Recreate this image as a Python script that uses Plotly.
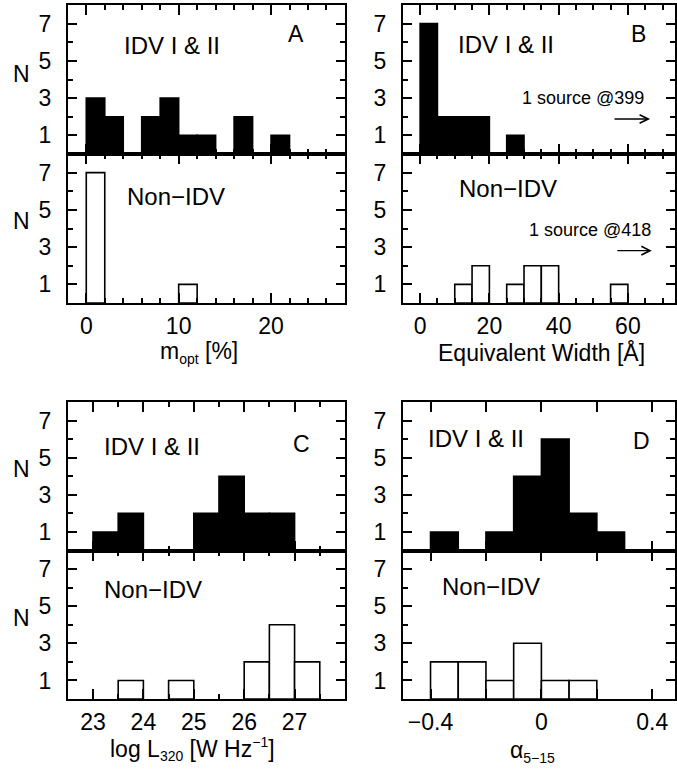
import plotly.graph_objects as go

# ---- histogram data (bin left edges, bin width, counts) ----
mopt_edges = [0, 2, 4, 6, 8, 10, 12, 14, 16, 18, 20]
mopt_width = 2
mopt_idv = [3, 2, 0, 2, 3, 1, 1, 0, 2, 0, 1]
mopt_non = [7, 0, 0, 0, 0, 1, 0, 0, 0, 0, 0]

ew_edges = [0, 5, 10, 15, 20, 25, 30, 35, 40, 45, 50, 55]
ew_width = 5
ew_idv = [7, 2, 2, 2, 0, 1, 0, 0, 0, 0, 0, 0]
ew_non = [0, 0, 1, 2, 0, 1, 2, 2, 0, 0, 0, 1]

lum_edges = [23.0, 23.5, 24.0, 24.5, 25.0, 25.5, 26.0, 26.5, 27.0]
lum_width = 0.5
lum_idv = [1, 2, 0, 0, 2, 4, 2, 2, 0]
lum_non = [0, 1, 0, 1, 0, 0, 2, 4, 2]

alpha_edges = [-0.4, -0.3, -0.2, -0.1, 0.0, 0.1, 0.2]
alpha_width = 0.1
alpha_idv = [1, 0, 1, 4, 6, 2, 1]
alpha_non = [2, 2, 1, 3, 1, 1, 0]

# outliers beyond the plotted equivalent-width range
ew_outlier_idv = 399
ew_outlier_non = 418

W, H = 677, 769
FONT = "Liberation Sans, Arial, sans-serif"


def px(x):
    return x / W


def py(y):
    return 1 - y / H


fig = go.Figure()


def add_hist(edges, width, counts, filled, xa, ya):
    xs = [e + width / 2 for e, c in zip(edges, counts) if c > 0]
    ys = [c for c in counts if c > 0]
    fig.add_trace(go.Bar(
        x=xs, y=ys, width=width, xaxis=xa, yaxis=ya,
        marker=dict(color="black" if filled else "white",
                    line=dict(color="black", width=1.6)),
        showlegend=False, hoverinfo="x+y",
    ))


add_hist(mopt_edges, mopt_width, mopt_idv, True, "x", "y")
add_hist(mopt_edges, mopt_width, mopt_non, False, "x2", "y2")
add_hist(ew_edges, ew_width, ew_idv, True, "x3", "y3")
add_hist(ew_edges, ew_width, ew_non, False, "x4", "y4")
add_hist(lum_edges, lum_width, lum_idv, True, "x5", "y5")
add_hist(lum_edges, lum_width, lum_non, False, "x6", "y6")
add_hist(alpha_edges, alpha_width, alpha_idv, True, "x7", "y7")
add_hist(alpha_edges, alpha_width, alpha_non, False, "x8", "y8")

LEFT = [px(68), px(346)]
RIGHT = [px(404), 1.0]
ROW = {
    "a_top": [py(154), py(5)],
    "a_bot": [py(303), py(154)],
    "b_top": [py(550.5), py(402)],
    "b_bot": [py(699), py(550.5)],
}


def xaxis(domain, rng, tickvals, ticktext, minor_dtick, labels, anchor):
    ax = dict(
        domain=domain, range=rng, anchor=anchor,
        showline=True, linewidth=2, linecolor="black", mirror="ticks",
        ticks="inside", ticklen=10, tickwidth=1.5, tickcolor="black",
        tickvals=tickvals, ticktext=ticktext,
        showticklabels=labels, showgrid=False, zeroline=False,
        tickfont=dict(family=FONT, size=23, color="black"),
        ticklabelstandoff=1,
    )
    if minor_dtick:
        ax["minor"] = dict(ticks="inside", ticklen=5, tickwidth=1.5,
                           tickcolor="black", dtick=minor_dtick,
                           tick0=0, showgrid=False)
    return ax


def yaxis(domain, anchor):
    return dict(
        domain=domain, range=[0, 8], anchor=anchor,
        showline=True, linewidth=2, linecolor="black", mirror="ticks",
        ticks="inside", ticklen=9, tickwidth=1.5, tickcolor="black",
        tickvals=[1, 3, 5, 7], showgrid=False, zeroline=False,
        tickfont=dict(family=FONT, size=23, color="black"),
        ticklabelstandoff=10,
        minor=dict(ticks="inside", ticklen=5, tickwidth=1.5,
                   tickcolor="black", dtick=1, tick0=0, showgrid=False),
    )


mopt_ticks = [0, 10, 20]
ew_ticks = [0, 20, 40, 60]
lum_ticks = [23, 24, 25, 26, 27]
alpha_ticks = [-0.4, -0.2, 0.0, 0.2, 0.4]
alpha_text = ["\u22120.4", "", "0", "", "0.4"]

layout = dict(
    width=W, height=H, margin=dict(l=0, r=0, t=0, b=0),
    plot_bgcolor="white", paper_bgcolor="white",
    font=dict(family=FONT, color="black"),
    barmode="overlay",
    xaxis=xaxis(LEFT, [-2, 28], mopt_ticks, [str(v) for v in mopt_ticks], 2, False, "y"),
    yaxis=yaxis(ROW["a_top"], "x"),
    xaxis2=xaxis(LEFT, [-2, 28], mopt_ticks, [str(v) for v in mopt_ticks], 2, True, "y2"),
    yaxis2=yaxis(ROW["a_bot"], "x2"),
    xaxis3=xaxis(RIGHT, [-5, 73.6], ew_ticks, [str(v) for v in ew_ticks], 5, False, "y3"),
    yaxis3=yaxis(ROW["a_top"], "x3"),
    xaxis4=xaxis(RIGHT, [-5, 73.6], ew_ticks, [str(v) for v in ew_ticks], 5, True, "y4"),
    yaxis4=yaxis(ROW["a_bot"], "x4"),
    xaxis5=xaxis(LEFT, [22.5, 28], lum_ticks, [str(v) for v in lum_ticks], 0.5, False, "y5"),
    yaxis5=yaxis(ROW["b_top"], "x5"),
    xaxis6=xaxis(LEFT, [22.5, 28], lum_ticks, [str(v) for v in lum_ticks], 0.5, True, "y6"),
    yaxis6=yaxis(ROW["b_bot"], "x6"),
    xaxis7=xaxis(RIGHT, [-0.5, 0.482], alpha_ticks, alpha_text, None, False, "y7"),
    yaxis7=yaxis(ROW["b_top"], "x7"),
    xaxis8=xaxis(RIGHT, [-0.5, 0.482], alpha_ticks, alpha_text, None, True, "y8"),
    yaxis8=yaxis(ROW["b_bot"], "x8"),
)
fig.update_layout(**layout)


def label(text, x, y, size=24):
    fig.add_annotation(text=text, x=px(x), y=py(y), xref="paper", yref="paper",
                       showarrow=False, xanchor="center", yanchor="middle",
                       font=dict(family=FONT, size=size, color="black"))


def small(s):
    return f'<span style="font-size:14px">{s}</span>'


# panel labels and sample names
label("IDV I &amp; II", 173, 45)
label("A", 297, 34, 23)
label("Non\u2212IDV", 177, 196)
label("IDV I &amp; II", 507, 44)
label("B", 640, 34, 23)
label("Non\u2212IDV", 510, 189)
label("IDV I &amp; II", 152, 446)
label("C", 302, 444, 23)
label("Non\u2212IDV", 153, 589)
label("IDV I &amp; II", 477, 439)
label("D", 643, 441, 23)
label("Non\u2212IDV", 492, 586)

# outlier notes
label(f"1 source @{ew_outlier_idv}", 585, 98, 18)
label(f"1 source @{ew_outlier_non}", 592, 230, 18)

# y-axis titles
for yy in (74, 221, 469, 618):
    label("N", 22, yy, 23)

# x-axis titles
label(f"m<sub>{small('opt')}</sub> [%]", 200, 352, 23)
label("Equivalent Width [\u00c5]", 543, 352, 23)
label(f"log L<sub>{small('320')}</sub> [W Hz<sup>{small(chr(0x2212) + '1')}</sup>]",
      193, 749, 23)
label(f"\u03b1<sub>{small('5' + chr(0x2212) + '15')}</sub>", 534, 751, 23)

# arrows pointing to the off-scale sources
for xa, ya, x0, x1, yv in (("x3", "y3", 55.7, 66.4, 1.88),
                            ("x4", "y4", 56.5, 66.9, 2.81)):
    fig.add_annotation(x=x1, y=yv, ax=x0, ay=yv, xref=xa, yref=ya,
                       axref=xa, ayref=ya, text="", showarrow=True,
                       arrowhead=5, arrowsize=1.3, arrowwidth=1.3,
                       arrowcolor="black")

fig.write_html("out.html")
